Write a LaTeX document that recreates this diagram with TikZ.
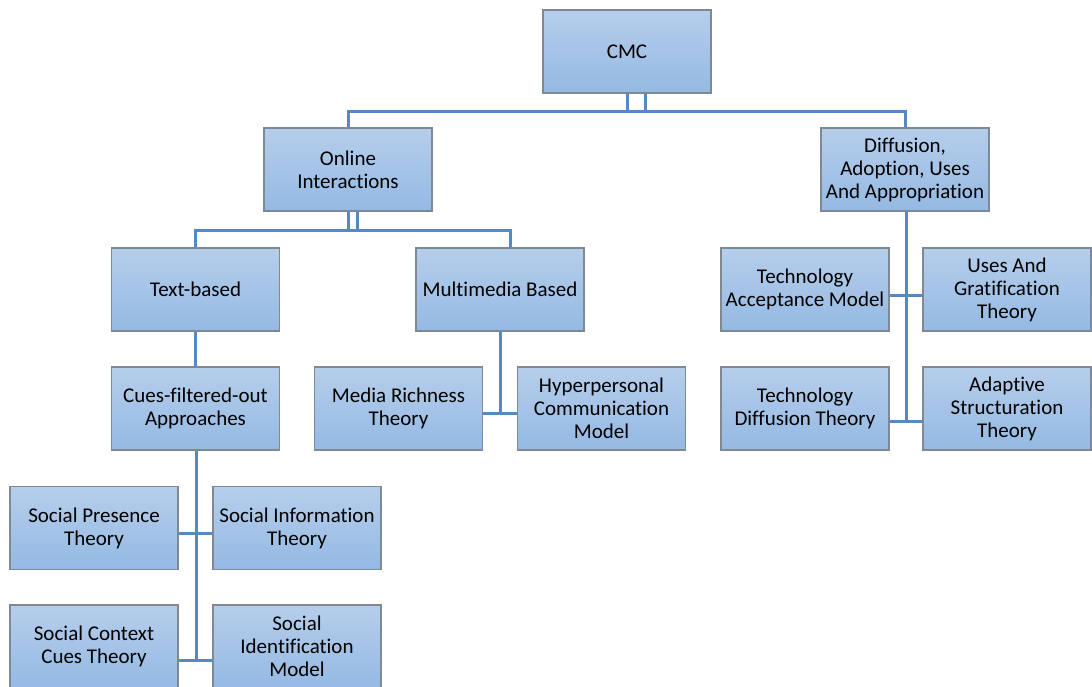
\documentclass[tikz,border=0pt]{standalone}
\usepackage{fontspec}
\setmainfont{Carlito}[Ligatures={NoCommon}]
\definecolor{linkblue}{RGB}{84,137,196}
\definecolor{boxedge}{RGB}{128,136,148}
\definecolor{boxtop}{RGB}{182,206,235}
\definecolor{boxbot}{RGB}{148,185,227}
\tikzset{
  box/.style={rectangle, draw=boxedge, line width=1.3pt, top color=boxtop, bottom color=boxbot,
    minimum width=168pt, minimum height=83pt, inner sep=2pt, align=center,
    font=\fontsize{21}{23}\selectfont},
  link/.style={draw=linkblue, line width=3pt}
}
\begin{document}
\begin{tikzpicture}[x=1pt,y=-1pt]
\useasboundingbox (0,0) rectangle (1092,686);

% boxes
\node[box] (cmc)    at (627,51.5)  {CMC};
\node[box] (online) at (348,169.5) {Online\\Interactions};
\node[box] (diff)   at (905,169.5) {Diffusion,\\Adoption, Uses\\And Appropriation};
\node[box] (text)   at (195.5,289.5) {Text-based};
\node[box] (multi)  at (500,289.5) {Multimedia Based};
\node[box] (cues)   at (195.5,408.5) {Cues-filtered-out\\Approaches};
\node[box] (rich)   at (398.5,408.5) {Media Richness\\Theory};
\node[box] (hyper)  at (601.5,408.5) {Hyperpersonal\\Communication\\Model};
\node[box] (spt)    at (94,528)    {Social Presence\\Theory};
\node[box] (sit)    at (297,528)   {Social Information\\Theory};
\node[box] (sct)    at (94,646.5)  {Social Context\\Cues Theory};
\node[box] (sim)    at (297,646.5) {Social\\Identification\\Model};
\node[box] (tam)    at (805,289.5) {Technology\\Acceptance Model};
\node[box] (ugt)    at (1007,289.5) {Uses And\\Gratification\\Theory};
\node[box] (tdt)    at (805,408.5) {Technology\\Diffusion Theory};
\node[box] (ast)    at (1007,408.5) {Adaptive\\Structuration\\Theory};

% bus coordinates
\coordinate (busA) at (636,111);
\coordinate (busB) at (353,230);
\coordinate (busC) at (196.5,533);
\coordinate (busD) at (196.5,660);
\coordinate (busE) at (500.5,413);
\coordinate (busF) at (906.5,295);
\coordinate (busG) at (906.5,421.5);

% CMC to first level
\draw[link] (cmc.south) -- (cmc.south |- busA);
\draw[link] ([xshift=18pt]cmc.south) -- ([xshift=18pt]cmc.south |- busA);
\draw[link] (online.north) |- (busA) -| (diff.north);

% Online Interactions to its children
\draw[link] (online.south) -- (online.south |- busB);
\draw[link] ([xshift=9pt]online.south) -- ([xshift=9pt]online.south |- busB);
\draw[link] (text.north) |- (busB) -| ([xshift=10pt]multi.north);

% text-based branch
\draw[link] (text.south) -- (cues.north);
\draw[link] ([xshift=1pt]cues.south) -- ([xshift=1pt]cues.south |- busD);
\draw[link] (spt.east |- busC) -- (sit.west |- busC);
\draw[link] (sct.east |- busD) -- (sim.west |- busD);

% multimedia branch
\draw[link] (multi.south) -- (multi.south |- busE);
\draw[link] (rich.east |- busE) -- (hyper.west |- busE);

% diffusion branch
\draw[link] ([xshift=1.5pt]diff.south) -- (busG);
\draw[link] (tam.east |- busF) -- (ugt.west |- busF);
\draw[link] (tdt.east |- busG) -- (ast.west |- busG);
\end{tikzpicture}
\end{document}
